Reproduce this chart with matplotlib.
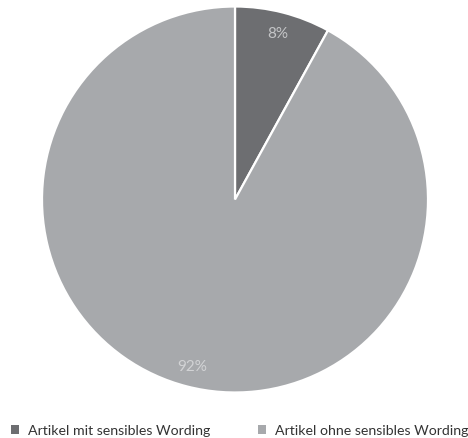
import matplotlib
matplotlib.use("Agg")
import matplotlib.pyplot as plt
from matplotlib.patches import Patch

categories = ["Artikel mit sensibles Wording", "Artikel ohne sensibles Wording"]
shares = [8, 92]
colors = ["#6d6e71", "#a7a9ac"]
label_colors = ["#c4c5c7", "#d2d3d5"]

plt.rcParams["font.family"] = ["Lato", "DejaVu Sans"]

W, H = 468, 439
fig = plt.figure(figsize=(W / 100, H / 100), dpi=100)
cx, cy, r = 235, 200.5, 193
ax = fig.add_axes([(cx - r) / W, (H - cy - r) / H, 2 * r / W, 2 * r / H])

wedges, texts, autotexts = ax.pie(
    shares,
    colors=colors,
    startangle=90,
    counterclock=False,
    autopct=lambda p: f"{p:.0f}%",
    pctdistance=0.89,
    wedgeprops=dict(edgecolor="white", linewidth=1.6),
    textprops=dict(fontsize=11),
)
for t, c in zip(autotexts, label_colors):
    t.set_color(c)
ax.set_xlim(-1, 1)
ax.set_ylim(-1, 1)
ax.set_aspect("equal")
ax.axis("off")

# one legend entry per column, each anchored at its own x position
for (lab, col), x0 in zip(zip(categories, colors), (8, 255)):
    fig.legend(
        [Patch(facecolor=col, edgecolor="none")], [lab],
        loc="center left", bbox_to_anchor=(x0 / W, (H - 431) / H),
        frameon=False, fontsize=10.2, labelcolor="#333333",
        handlelength=0.6, handleheight=0.6, handletextpad=0.6,
        borderaxespad=0, borderpad=0.2,
    )

fig.savefig("out.png", dpi=100, facecolor="white")
